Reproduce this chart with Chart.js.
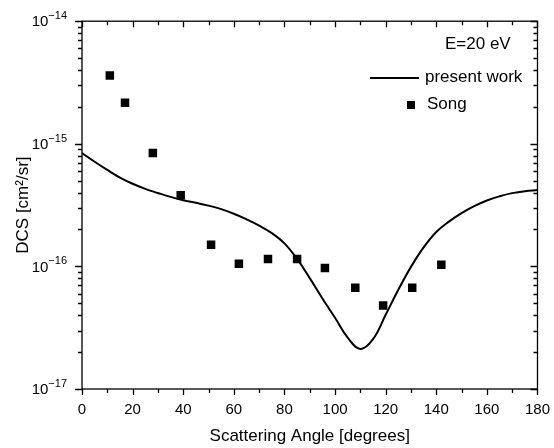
<!DOCTYPE html>
<html>
<head>
<meta charset="utf-8">
<script src="https://cdn.jsdelivr.net/npm/chart.js@4/dist/chart.umd.min.js"></script>
<style>
  html, body { margin: 0; padding: 0; background: #fff; }
  #wrap { width: 554px; height: 448px; }
</style>
</head>
<body>
<div id="wrap"><canvas id="graphique" width="554" height="448"></canvas></div>
<script>
// present work (ligne continue)
const anglesCalc = [0, 5, 10, 15, 20, 25, 30, 35, 40, 45, 50, 55, 60, 65, 70, 75, 80, 85, 90,
    95, 100, 105, 110, 115, 120, 125, 130, 135, 140, 145, 150, 155, 160, 165, 170, 175, 180];
const dcsCalc = [8.42e-16, 7.14e-16, 6.12e-16, 5.3e-16, 4.72e-16, 4.29e-16, 3.97e-16, 3.69e-16, 3.47e-16,
    3.3e-16, 3.13e-16, 2.93e-16, 2.69e-16, 2.42e-16, 2.15e-16, 1.87e-16, 1.54e-16, 1.15e-16, 8.02e-17,
    5.48e-17, 3.81e-17, 2.62e-17, 2.12e-17, 2.55e-17, 4.03e-17, 6.44e-17, 9.91e-17, 1.43e-16, 1.91e-16,
    2.32e-16, 2.72e-16, 3.1e-16, 3.45e-16, 3.73e-16, 3.96e-16, 4.11e-16, 4.19e-16];

// Song (points carrés)
const anglesSong = [11, 17, 28, 39, 51, 62, 73.5, 85, 96, 108, 119, 130.5, 142];
const dcsSong = [3.6e-15, 2.16e-15, 8.4e-16, 3.8e-16, 1.5e-16, 1.05e-16, 1.15e-16, 1.15e-16,
    9.7e-17, 6.7e-17, 4.8e-17, 6.7e-17, 1.03e-16];

const exposants = [-17, -16, -15, -14];
const labelEnergie = "E=20 eV";
const labelCalc = "present work";
const labelSong = "Song";

const police = "'Liberation Sans', Arial, sans-serif";

function estMajeur(v) {
    const l = Math.log10(v);
    return Math.abs(l - Math.round(l)) < 1e-6;
}

// traits des graduations + étiquettes 10^n + cadre + légende
const pluginCadre = {
    id: "cadre",
    afterDraw(chart) {
        const { ctx, chartArea: a, scales: { x, y } } = chart;
        ctx.save();
        ctx.strokeStyle = "#000";
        ctx.lineWidth = 1.3;
        ctx.strokeRect(a.left, a.top, a.right - a.left, a.bottom - a.top);
        ctx.beginPath();
        x.ticks.forEach(t => {
            const px = Math.round(x.getPixelForValue(t.value)) + 0.5;
            const len = t.value % 20 === 0 ? 6 : 4;
            ctx.moveTo(px, a.bottom); ctx.lineTo(px, a.bottom + len);
            ctx.moveTo(px, a.top); ctx.lineTo(px, a.top + len);
        });
        y.ticks.forEach(t => {
            const py = Math.round(y.getPixelForValue(t.value)) + 0.5;
            const len = estMajeur(t.value) ? 7 : 4;
            ctx.moveTo(a.left, py); ctx.lineTo(a.left - len, py);
            ctx.moveTo(a.right, py); ctx.lineTo(a.right - len, py);
        });
        ctx.stroke();

        // étiquettes de l'axe y avec exposant
        ctx.fillStyle = "#000";
        ctx.textBaseline = "middle";
        ctx.textAlign = "left";
        y.ticks.forEach(t => {
            if (!estMajeur(t.value)) return;
            const py = y.getPixelForValue(t.value);
            const exp = "\u2212" + Math.abs(Math.round(Math.log10(t.value)));
            ctx.font = "11px " + police;
            const w2 = ctx.measureText(exp).width;
            ctx.font = "15px " + police;
            const w1 = ctx.measureText("10").width;
            const xd = 67;
            ctx.fillText("10", xd - w2 - w1, py + 1);
            ctx.font = "11px " + police;
            ctx.fillText(exp, xd - w2, py - 5);
        });

        // légende
        ctx.font = "17px " + police;
        ctx.fillText(labelEnergie, 445, 44);
        ctx.beginPath();
        ctx.lineWidth = 2;
        ctx.moveTo(370, 78); ctx.lineTo(419, 78);
        ctx.stroke();
        ctx.fillText(labelCalc, 425, 77);
        ctx.fillRect(407, 101, 8, 8);
        ctx.fillText(labelSong, 427, 104);
        ctx.restore();
    }
};

const canvasGraphique = document.getElementById("graphique");
const graphique = new Chart(canvasGraphique, {
    type: "scatter",
    data: {
        datasets: [
            {
                label: labelCalc,
                data: anglesCalc.map((a, i) => ({ x: a, y: dcsCalc[i] })),
                showLine: true,
                borderColor: "#000",
                borderWidth: 2,
                pointRadius: 0,
                tension: 0.4,
                fill: false,
            },
            {
                label: labelSong,
                data: anglesSong.map((a, i) => ({ x: a, y: dcsSong[i] })),
                showLine: false,
                pointStyle: "rect",
                pointRadius: 6,
                backgroundColor: "#000",
                borderColor: "#000",
                borderWidth: 0,
            },
        ],
    },
    options: {
        responsive: false,
        animation: false,
        layout: { padding: { left: 0, right: 14, top: 20, bottom: 0 } },
        plugins: { legend: { display: false }, tooltip: { enabled: false } },
        scales: {
            x: {
                type: "linear",
                min: 0,
                max: 180,
                grid: { display: false },
                border: { display: false },
                ticks: {
                    stepSize: 10,
                    autoSkip: false,
                    maxRotation: 0,
                    padding: 4,
                    color: "#000",
                    font: { family: police, size: 15 },
                    callback: v => (v % 20 === 0 ? String(v) : ""),
                },
                title: {
                    display: true,
                    text: "Scattering Angle [degrees]",
                    color: "#000",
                    font: { family: police, size: 17 },
                    padding: { top: 4, bottom: 1 },
                },
                afterFit: s => { s.height = 59; },
            },
            y: {
                type: "logarithmic",
                min: 1e-17,
                max: 1e-14,
                grid: { display: false },
                border: { display: false },
                afterBuildTicks: s => {
                    const ticks = [];
                    exposants.forEach(e => {
                        const nb = e === -14 ? 1 : 9;
                        for (let m = 1; m <= nb; m++) {
                            ticks.push({ value: m * Math.pow(10, e) });
                        }
                    });
                    s.ticks = ticks;
                },
                ticks: {
                    autoSkip: false,
                    padding: 14,
                    callback: () => "",
                },
                title: {
                    display: true,
                    text: "DCS [cm\u00B2/sr]",
                    color: "#000",
                    font: { family: police, size: 17 },
                    padding: { top: 13, bottom: 0 },
                },
                afterFit: s => { s.width = 82; },
            },
        },
    },
    plugins: [pluginCadre],
});
</script>
</body>
</html>
